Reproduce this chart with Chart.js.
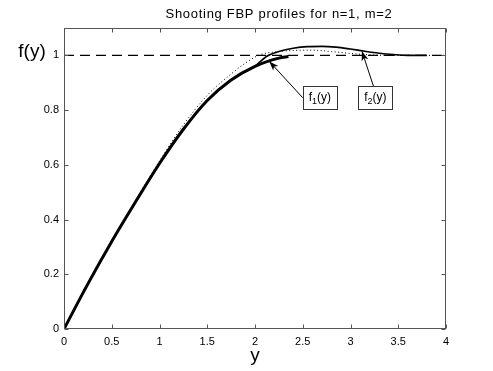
<!DOCTYPE html>
<html>
<head>
<meta charset="utf-8">
<title>Shooting FBP profiles</title>
<script src="https://cdn.jsdelivr.net/npm/chart.js@4.4.1/dist/chart.umd.min.js"></script>
<style>
  html, body { margin: 0; padding: 0; background: #fff; }
  canvas { display: block; }
</style>
</head>
<body>
<canvas id="chart" width="493" height="371"></canvas>
<script>
// values
const f1X = [0, 0.25, 0.5, 0.75, 1.0, 1.25, 1.5, 1.75, 2.0, 2.25, 2.35];
const f1Y = [0, 0.165, 0.320, 0.465, 0.605, 0.730, 0.835, 0.910, 0.960, 0.990, 0.996];

const f2X = [0, 0.25, 0.5, 0.75, 1.0, 1.25, 1.5, 1.75, 2.0, 2.12, 2.25, 2.4, 2.55, 2.7, 2.85, 3.0, 3.15, 3.3, 3.45, 3.6, 3.8];
const f2Y = [0, 0.165, 0.320, 0.465, 0.605, 0.730, 0.835, 0.910, 0.961, 0.996, 1.014, 1.026, 1.032, 1.033, 1.030, 1.023, 1.015, 1.008, 1.003, 1.0, 1.0];

const dotX = [0, 0.25, 0.5, 0.75, 1.0, 1.25, 1.5, 1.75, 1.9, 2.05, 2.2, 2.4, 2.6, 2.8, 3.0, 3.2, 3.4, 4.0];
const dotY = [0, 0.166, 0.323, 0.472, 0.614, 0.746, 0.854, 0.932, 0.972, 1.002, 1.012, 1.018, 1.019, 1.014, 1.007, 1.002, 1.0, 1.0];

const refX = [0, 4];
const refY = [1, 1];

const xTicks = [0, 0.5, 1, 1.5, 2, 2.5, 3, 3.5, 4];
const yTicks = [0, 0.2, 0.4, 0.6, 0.8, 1];

const titleText = 'Shooting FBP profiles for n=1, m=2';

// label boxes + arrows (data coords)
const labels = [
  { sub: '1', box: [2.68, 0.845], from: [2.50, 0.845], to: [2.15, 0.978] },
  { sub: '2', box: [3.26, 0.845], from: [3.24, 0.888], to: [3.12, 1.015] }
];

const pts = (xs, ys) => xs.map((x, i) => ({ x: x, y: ys[i] }));
const FONT = "'Liberation Sans', Arial, Helvetica, sans-serif";

const frame = {
  id: 'frame',
  afterDraw(chart) {
    const ctx = chart.ctx;
    const a = chart.chartArea;
    const sx = chart.scales.x, sy = chart.scales.y;
    ctx.save();

    // axes box with inward ticks
    ctx.strokeStyle = '#555';
    ctx.lineWidth = 1;
    const L = Math.round(a.left) + 0.5, R = Math.round(a.right) - 0.5;
    const T = Math.round(a.top) + 0.5, B = Math.round(a.bottom) - 0.5;
    ctx.strokeRect(L, T, R - L, B - T);
    ctx.beginPath();
    xTicks.forEach(v => {
      const px = Math.round(sx.getPixelForValue(v)) + 0.5;
      ctx.moveTo(px, B); ctx.lineTo(px, B - 4);
      ctx.moveTo(px, T); ctx.lineTo(px, T + 4);
    });
    yTicks.forEach(v => {
      const py = Math.round(sy.getPixelForValue(v)) + 0.5;
      ctx.moveTo(L, py); ctx.lineTo(L + 4, py);
      ctx.moveTo(R, py); ctx.lineTo(R - 4, py);
    });
    ctx.stroke();

    // title
    ctx.fillStyle = '#000';
    ctx.font = '13px ' + FONT;
    ctx.textAlign = 'center';
    ctx.textBaseline = 'middle';
    if ('letterSpacing' in ctx) ctx.letterSpacing = '0.7px';
    ctx.fillText(titleText, 279, a.top - 13.5);
    if ('letterSpacing' in ctx) ctx.letterSpacing = '0px';

    // y label, written level like the original
    ctx.font = '19px ' + FONT;
    ctx.fillText('f(y)', a.left - 32, sy.getPixelForValue(1) - 4);

    // annotations
    labels.forEach(lb => {
      const x0 = sx.getPixelForValue(lb.from[0]), y0 = sy.getPixelForValue(lb.from[1]);
      const x1 = sx.getPixelForValue(lb.to[0]), y1 = sy.getPixelForValue(lb.to[1]);
      ctx.strokeStyle = '#000';
      ctx.lineWidth = 1;
      ctx.beginPath();
      ctx.moveTo(x0, y0); ctx.lineTo(x1, y1);
      ctx.stroke();
      const ang = Math.atan2(y1 - y0, x1 - x0);
      ctx.fillStyle = '#000';
      ctx.beginPath();
      ctx.moveTo(x1, y1);
      ctx.lineTo(x1 - 10 * Math.cos(ang - 0.35), y1 - 10 * Math.sin(ang - 0.35));
      ctx.lineTo(x1 - 7 * Math.cos(ang), y1 - 7 * Math.sin(ang));
      ctx.lineTo(x1 - 10 * Math.cos(ang + 0.35), y1 - 10 * Math.sin(ang + 0.35));
      ctx.closePath();
      ctx.fill();

      const cx = sx.getPixelForValue(lb.box[0]), cy = sy.getPixelForValue(lb.box[1]);
      const w = 34, h = 23;
      ctx.fillStyle = '#fff';
      ctx.fillRect(cx - w / 2, cy - h / 2, w, h);
      ctx.strokeStyle = '#333';
      ctx.lineWidth = 1;
      ctx.strokeRect(Math.round(cx - w / 2) + 0.5, Math.round(cy - h / 2) + 0.5, w, h);

      ctx.fillStyle = '#000';
      ctx.textAlign = 'left';
      ctx.textBaseline = 'alphabetic';
      ctx.font = '12px ' + FONT;
      const fw = ctx.measureText('f').width;
      ctx.font = '9px ' + FONT;
      const sw = ctx.measureText(lb.sub).width;
      ctx.font = '12px ' + FONT;
      const pw = ctx.measureText('(y)').width;
      let tx = cx - (fw + sw + pw) / 2;
      const base = cy + 3;
      ctx.fillText('f', tx, base); tx += fw;
      ctx.font = '9px ' + FONT;
      ctx.fillText(lb.sub, tx, base + 3); tx += sw;
      ctx.font = '12px ' + FONT;
      ctx.fillText('(y)', tx, base);
    });

    ctx.restore();
  }
};

const tickLabel = v => String(Math.round(v * 10) / 10);

const ctx = document.getElementById('chart').getContext('2d');

new Chart(ctx, {
  type: 'scatter',
  data: {
    datasets: [
      { data: pts(refX, refY), borderColor: '#000', borderWidth: 1.2, borderDash: [10, 6] },
      { data: pts(dotX, dotY), borderColor: '#000', borderWidth: 1, borderDash: [1, 2.5] },
      { data: pts(f2X, f2Y), borderColor: '#000', borderWidth: 1.6 },
      { data: pts(f1X, f1Y), borderColor: '#000', borderWidth: 3 }
    ].map(d => Object.assign(d, {
      showLine: true,
      pointRadius: 0,
      cubicInterpolationMode: 'monotone',
      fill: false
    }))
  },
  options: {
    responsive: false,
    animation: false,
    layout: { padding: { left: 0, right: 47, top: 28, bottom: 0 } },
    plugins: {
      legend: { display: false },
      tooltip: { enabled: false },
      title: { display: false }
    },
    scales: {
      x: {
        type: 'linear',
        min: 0,
        max: 4,
        afterFit(scale) { scale.height = 42; },
        afterBuildTicks(scale) { scale.ticks = xTicks.map(v => ({ value: v })); },
        grid: { display: false, drawTicks: false },
        border: { display: false },
        ticks: { color: '#000', padding: 6, font: { family: FONT, size: 11 }, callback: tickLabel },
        title: {
          display: true,
          text: 'y',
          color: '#000',
          font: { family: FONT, size: 19 },
          padding: { top: 0, bottom: 4 }
        }
      },
      y: {
        min: 0,
        max: 1.1,
        afterFit(scale) { scale.width = 64; },
        afterBuildTicks(scale) { scale.ticks = yTicks.map(v => ({ value: v })); },
        grid: { display: false, drawTicks: false },
        border: { display: false },
        ticks: { color: '#000', padding: 5, font: { family: FONT, size: 11 }, callback: tickLabel }
      }
    }
  },
  plugins: [frame]
});
</script>
</body>
</html>
